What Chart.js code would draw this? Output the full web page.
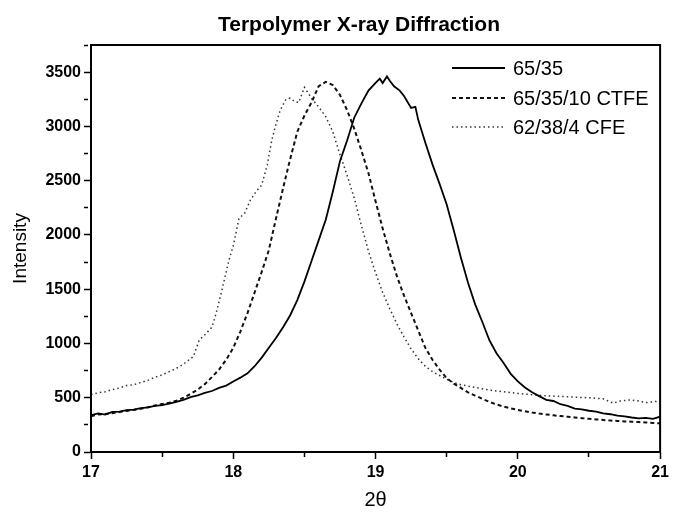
<!DOCTYPE html>
<html>
<head>
<meta charset="utf-8">
<title>Terpolymer X-ray Diffraction</title>
<script src="https://cdn.jsdelivr.net/npm/chart.js@4.4.0/dist/chart.umd.min.js"></script>
<style>
  html, body { margin: 0; padding: 0; background: #fff; }
  #wrap { width: 673px; height: 517px; }
</style>
</head>
<body>
<div id="wrap"><canvas id="xrd" width="673" height="517"></canvas></div>
<script>
// 2theta / intensity
let x6535 = [17.00,17.05,17.10,17.15,17.20,17.25,17.30,17.35,17.40,17.45,17.50,17.55,17.60,17.65,17.70,17.75,17.80,17.85,17.90,17.95,
  18.00,18.05,18.10,18.15,18.20,18.25,18.30,18.35,18.40,18.45,18.50,18.55,18.60,18.65,18.70,18.75,18.80,18.85,18.90,18.95,19.00,
  19.03,19.05,19.08,19.10,19.13,19.17,19.20,19.25,19.28,19.30,
  19.35,19.40,19.45,19.50,19.55,19.60,19.65,19.70,19.75,19.80,19.85,19.90,19.95,20.00,20.05,20.10,20.15,20.20,20.25,20.30,
  20.35,20.40,20.45,20.50,20.55,20.60,20.65,20.70,20.75,20.80,20.85,20.90,20.95,21.00];
let y6535 = [340,355,345,370,372,385,390,405,412,425,432,445,462,480,505,522,545,562,590,612,
  650,685,725,790,870,960,1050,1150,1260,1400,1570,1760,1950,2140,2400,2680,2870,3080,3210,3330,3400,
  3440,3400,3460,3420,3370,3330,3280,3170,3180,3060,
  2850,2650,2470,2280,2040,1790,1560,1360,1200,1030,910,820,720,650,595,550,515,480,470,440,
  425,400,392,380,372,355,348,335,328,318,310,315,305,325];

let xCtfe = [17.00,17.05,17.10,17.15,17.20,17.25,17.30,17.35,17.40,17.45,17.50,17.55,17.60,17.65,17.70,17.75,17.80,17.85,17.90,17.95,
  18.00,18.05,18.10,18.15,18.20,18.25,18.30,18.35,18.40,18.45,18.50,18.55,18.60,18.65,18.70,18.75,18.80,18.85,18.90,18.95,
  19.00,19.05,19.10,19.15,19.20,19.25,19.30,19.35,19.40,19.45,19.50,19.55,19.60,19.65,19.70,19.75,19.80,19.85,19.90,19.95,
  20.00,20.05,20.10,20.15,20.20,20.25,20.30,20.35,20.40,20.45,20.50,20.55,20.60,20.65,20.70,20.75,20.80,20.85,20.90,20.95,21.00];
let yCtfe = [330,345,350,358,368,378,388,398,412,428,442,455,472,500,535,575,625,690,760,850,
  960,1110,1280,1470,1660,1860,2150,2430,2700,2950,3100,3220,3370,3410,3380,3290,3150,2980,2780,2570,
  2310,2060,1830,1620,1440,1280,1120,960,850,760,680,630,590,550,520,490,462,438,418,402,
  388,376,364,354,346,338,331,325,318,312,306,300,295,290,286,282,279,276,272,268,264];

let xCfe = [17.00,17.05,17.10,17.15,17.20,17.25,17.30,17.35,17.40,17.45,17.50,17.55,17.60,17.65,17.70,
  17.72,17.76,17.80,17.85,17.88,17.92,17.97,
  18.00,18.04,18.08,18.12,18.16,18.20,18.24,18.27,18.30,18.33,18.37,18.40,18.43,18.46,18.50,18.53,18.56,18.60,
  18.65,18.70,18.74,18.80,18.85,18.90,18.95,19.00,
  19.05,19.10,19.15,19.20,19.25,19.30,19.35,19.40,19.45,19.50,19.55,19.60,
  19.70,19.80,19.90,20.00,20.10,20.20,20.30,20.40,20.50,
  20.55,20.60,20.67,20.72,20.79,20.85,20.90,20.97,21.00];
let yCfe = [530,545,555,575,590,612,620,640,660,690,710,740,770,810,860,
  880,1030,1080,1150,1280,1490,1770,
  1900,2150,2200,2320,2400,2460,2650,2870,3020,3150,3250,3260,3230,3220,3360,3300,3240,3180,
  3090,2950,2780,2550,2340,2090,1850,1650,
  1470,1320,1180,1060,950,860,790,740,705,670,640,620,
  595,570,555,540,528,518,512,505,500,
  495,490,450,470,480,470,455,465,460];

let seriesNames = ['65/35', '65/35/10 CTFE', '62/38/4 CFE'];
let xMin = 17, xMax = 21, yMin = 0, yMax = 3750;

const toPoints = (xs, ys) => xs.map((x, i) => ({ x: x, y: ys[i] }));

const serie = (label, xs, ys, dash, width, color) => {
    return {
        label,
        data: toPoints(xs, ys),
        borderColor: color,
        borderWidth: width,
        borderDash: dash,
        pointRadius: 0,
        tension: 0,
        fill: false,
    }
}

let datasets = [
    serie(seriesNames[0], x6535, y6535, [], 1.8, '#000'),
    serie(seriesNames[1], xCtfe, yCtfe, [4, 3], 2, '#111'),
    serie(seriesNames[2], xCfe, yCfe, [1.5, 3], 1.5, '#333'),
];

const FONT = '"Liberation Sans", Arial, sans-serif';

// titulo, marco y leyenda dentro del area
const decor = {
    id: 'decor',
    afterDraw(chart) {
        let ctx = chart.ctx, a = chart.chartArea;
        ctx.save();
        ctx.strokeStyle = '#000';
        ctx.lineWidth = 2;
        ctx.setLineDash([]);
        ctx.strokeRect(a.left, a.top, a.right - a.left, a.bottom - a.top);

        ctx.fillStyle = '#000';
        ctx.font = 'bold 21px ' + FONT;
        ctx.textAlign = 'center';
        ctx.textBaseline = 'middle';
        ctx.fillText('Terpolymer X-ray Diffraction', 359, 25);

        ctx.font = '20px ' + FONT;
        ctx.textAlign = 'left';
        let rows = [68, 98, 127];
        chart.data.datasets.forEach((ds, i) => {
            ctx.strokeStyle = ds.borderColor;
            ctx.lineWidth = ds.borderWidth;
            ctx.setLineDash(ds.borderDash);
            ctx.beginPath();
            ctx.moveTo(452, rows[i]);
            ctx.lineTo(505, rows[i]);
            ctx.stroke();
            ctx.fillText(ds.label, 513, rows[i] + 1);
        });
        ctx.restore();
    }
};

const tickDash = (c) => {
    if (!c.tick) return [];
    let v = c.tick.value;
    return c.scale.axis === 'x'
        ? (Math.abs(v - Math.round(v)) < 1e-6 ? [] : [4, 20])
        : (v % 500 === 0 ? [] : [4, 20]);
}

new Chart(document.getElementById('xrd').getContext('2d'), {
    type: 'line',
    data: { datasets: datasets },
    options: {
        responsive: false,
        animation: false,
        layout: { padding: { top: 45, right: 9, left: 0, bottom: 0 } },
        plugins: {
            legend: { display: false },
            title: { display: false },
            tooltip: { enabled: false },
        },
        scales: {
            x: {
                type: 'linear',
                min: xMin,
                max: xMax,
                afterFit: (s) => { s.height = 65; },
                border: { color: '#000', width: 2 },
                grid: {
                    drawOnChartArea: false,
                    tickLength: 7,
                    tickColor: '#000',
                    tickWidth: 1.5,
                    tickBorderDash: tickDash,
                },
                ticks: {
                    stepSize: 0.5,
                    color: '#000',
                    padding: 4,
                    maxRotation: 0,
                    autoSkip: false,
                    font: { family: FONT, size: 16, weight: 'bold' },
                    callback: (v) => Number.isInteger(v) ? String(v) : '',
                },
                title: {
                    display: true,
                    text: '2θ',
                    color: '#000',
                    font: { family: FONT, size: 20 },
                    padding: { top: 0, bottom: 5 },
                },
            },
            y: {
                min: yMin,
                max: yMax,
                afterFit: (s) => { s.width = 91; },
                border: { color: '#000', width: 2 },
                grid: {
                    drawOnChartArea: false,
                    tickLength: 7,
                    tickColor: '#000',
                    tickWidth: 1.5,
                    tickBorderDash: tickDash,
                },
                ticks: {
                    stepSize: 250,
                    color: '#000',
                    padding: 3,
                    autoSkip: false,
                    font: { family: FONT, size: 16, weight: 'bold' },
                    callback: (v) => (v % 500 === 0 ? String(v) : ''),
                },
                title: {
                    display: true,
                    text: 'Intensity',
                    color: '#000',
                    font: { family: FONT, size: 19 },
                    padding: { top: 9, bottom: 0 },
                },
            },
        },
    },
    plugins: [decor],
});
</script>
</body>
</html>
